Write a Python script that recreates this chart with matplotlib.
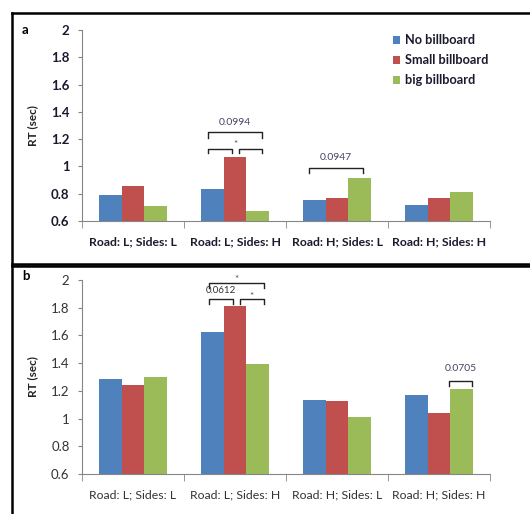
import matplotlib
matplotlib.use("Agg")
import matplotlib.pyplot as plt
from matplotlib.patches import Patch
from matplotlib.lines import Line2D

plt.rcParams['font.family'] = ['Lato', 'DejaVu Sans']

categories = ["Road: L; Sides: L", "Road: L; Sides: H", "Road: H; Sides: L", "Road: H; Sides: H"]
series_names = ["No billboard", "Small billboard", "big billboard"]
colors = ["#4F81BD", "#C0504D", "#9BBB59"]

# panel a
a_no = [0.79, 0.835, 0.755, 0.716]
a_small = [0.855, 1.072, 0.772, 0.766]
a_big = [0.71, 0.671, 0.918, 0.81]

# panel b
b_no = [1.283, 1.628, 1.136, 1.173]
b_small = [1.245, 1.81, 1.13, 1.04]
b_big = [1.297, 1.392, 1.008, 1.215]

yticks = [0.6, 0.8, 1.0, 1.2, 1.4, 1.6, 1.8, 2.0]
yticklabels = ["0.6", "0.8", "1", "1.2", "1.4", "1.6", "1.8", "2"]

W, H = 530, 514
fig = plt.figure(figsize=(W / 100, H / 100), dpi=100)
ax_a = fig.add_axes([82 / W, (H - 221) / H, 408 / W, (221 - 30) / H])
ax_b = fig.add_axes([82 / W, (H - 474) / H, 408 / W, (474 - 280) / H])

bw = 0.22
axis_gray = "#868686"


def draw_panel(ax, vals, bold, txtcolor):
    weight = "bold" if bold else "normal"
    for k, v in enumerate(vals):
        xs = [i + (k - 1) * bw for i in range(len(categories))]
        ax.bar(xs, v, width=bw, color=colors[k], bottom=0, label=series_names[k])
    ax.set_ylim(0.6, 2.0)
    ax.set_xlim(-0.5, len(categories) - 0.5)
    ax.set_yticks(yticks)
    ax.set_yticklabels(yticklabels, fontsize=9.5, fontweight=weight, color=txtcolor)
    ax.set_xticks(range(len(categories)))
    ax.set_xticklabels(categories, fontsize=8.8, fontweight=weight, color=txtcolor)
    ax.set_xticks([i - 0.5 for i in range(len(categories) + 1)], minor=True)
    ax.tick_params(axis='x', which='major', length=0, pad=11)
    ax.tick_params(axis='x', which='minor', length=5, color=axis_gray, direction='out')
    ax.tick_params(axis='y', length=3, color=axis_gray, pad=6)
    for s in ["top", "right"]:
        ax.spines[s].set_visible(False)
    for s in ["left", "bottom"]:
        ax.spines[s].set_color(axis_gray)
        ax.spines[s].set_linewidth(0.8)
    ax.set_ylabel("RT (sec)", fontsize=8.5, fontweight="bold", color="#222222", labelpad=9)


def bracket(ax, x0, x1, y, leg, text=None, ty=None, tsize=7):
    ax.plot([x0, x0, x1, x1], [y - leg, y, y, y - leg], color="#222222", lw=1.0, clip_on=False)
    if text is not None:
        ax.text((x0 + x1) / 2, ty, text, ha="center", va="center", fontsize=tsize,
                color="#444466", clip_on=False)


draw_panel(ax_a, [a_no, a_small, a_big], True, "#1a1a2e")
draw_panel(ax_b, [b_no, b_small, b_big], False, "#333333")

# significance brackets panel a
bracket(ax_a, 0.735, 1.265, 1.25, 0.04, "0.0994", 1.32, 7.5)
bracket(ax_a, 0.735, 0.97, 1.13, 0.035)
bracket(ax_a, 1.04, 1.265, 1.13, 0.035)
ax_a.text(1.005, 1.16, "*", ha="center", va="center", fontsize=7, color="#444466")
bracket(ax_a, 1.725, 2.255, 0.99, 0.04, "0.0947", 1.065, 7.5)

# significance brackets panel b
bracket(ax_b, 0.745, 1.284, 1.975, 0.03)
ax_b.text(1.015, 2.0, "*", ha="center", va="center", fontsize=7, color="#444466", clip_on=False)
bracket(ax_b, 0.745, 0.98, 1.86, 0.03)
ax_b.text(0.862, 1.925, "0.0612", ha="center", va="center", fontsize=7, color="#333333")
bracket(ax_b, 1.049, 1.284, 1.86, 0.03)
ax_b.text(1.165, 1.88, "*", ha="center", va="center", fontsize=7, color="#444466")
bracket(ax_b, 3.098, 3.324, 1.27, 0.035, "0.0705", 1.36, 7.5)

# legend
handles = [Patch(facecolor=c, edgecolor="none") for c in colors]
leg = fig.legend(handles, series_names, loc="upper left", bbox_to_anchor=(381 / W, 1 - 23 / H),
                 frameon=False, handlelength=0.6, handleheight=0.6, handletextpad=0.4,
                 labelspacing=0.62, prop={"size": 9.2, "weight": "bold"})
for t in leg.get_texts():
    t.set_color("#1a1a2e")

# panel letters
fig.text(22 / W, 1 - 30 / H, "a", fontsize=9.5, fontweight="bold", va="center")
fig.text(22 / W, 1 - 276 / H, "b", fontsize=9.5, fontweight="bold", va="center")

# panel frames
def fline(x0, y0, x1, y1):
    fig.add_artist(Line2D([x0 / W, x1 / W], [1 - y0 / H, 1 - y1 / H], color="black", lw=1.8))

fline(12, 13, W, 13)
fline(12, 13, 12, H)
fline(12, 264, W, 264)
fline(12, 266, W, 266)

fig.savefig("out.png", dpi=100)
